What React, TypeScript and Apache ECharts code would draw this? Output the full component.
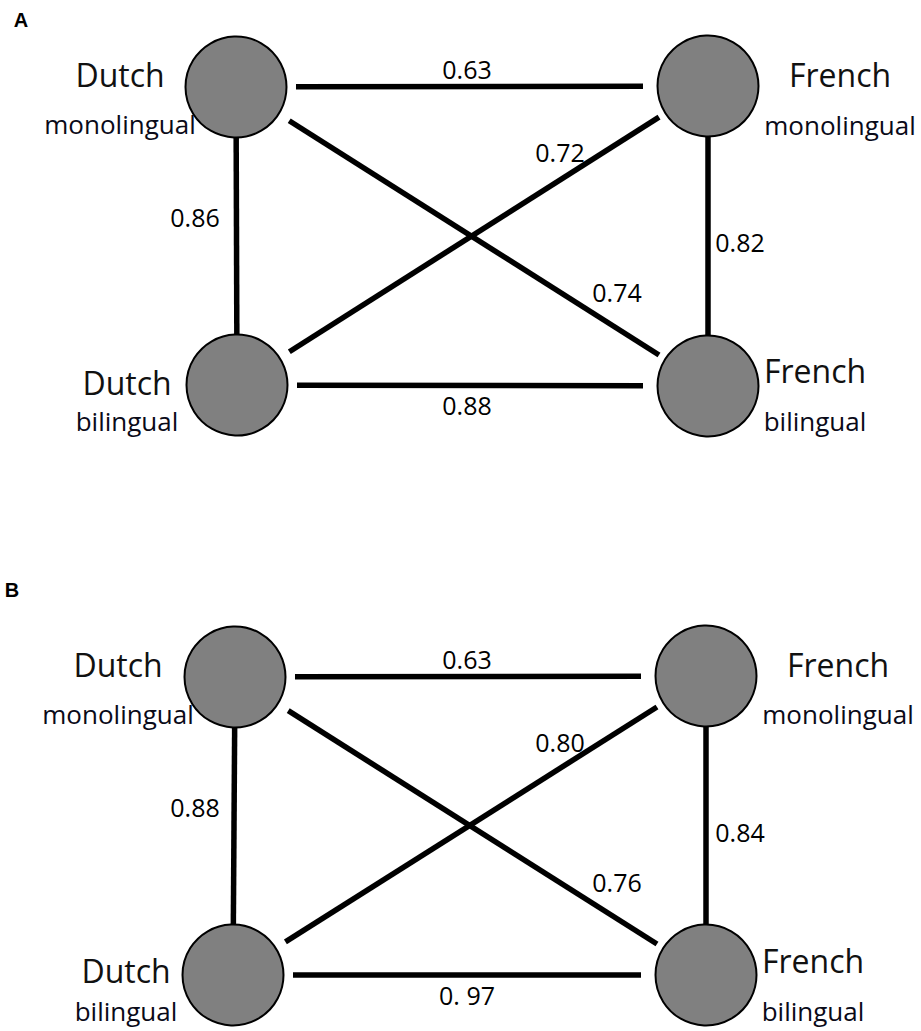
import React, { useEffect, useRef } from "react";
import * as echarts from "echarts";

// ---- data ----
const panelNames = ["A", "B"];
const nodeLanguages = ["Dutch", "French", "Dutch", "French"];
const nodeGroups = ["monolingual", "monolingual", "bilingual", "bilingual"];
// edges: Dutch mono–French mono, Dutch mono–Dutch bi, Dutch mono–French bi,
//        French mono–Dutch bi, French mono–French bi, Dutch bi–French bi
const edgeFrom = [0, 0, 0, 1, 1, 2];
const edgeTo = [1, 2, 3, 2, 3, 3];
const correlationsA = [0.63, 0.86, 0.74, 0.72, 0.82, 0.88];
const correlationsB = [0.63, 0.88, 0.76, 0.8, 0.84, 0.97];
const labelTextB = ["0.63", "0.88", "0.76", "0.80", "0.84", "0. 97"]; // as printed
const labelTextA = correlationsA.map((v) => v.toFixed(2));

// ---- layout (pixels) ----
const W = 921;
const H = 1031;
const R = 50;
const nodeCenters = [
  [[236, 87], [708, 86], [237, 385], [708, 386]],
  [[235, 677], [706, 676], [233, 975], [706, 975]],
];
const edgeGaps = [[10, 15], [-2, -2], [13, 8], [8, 12], [-2, -2], [10, 15]];
const edgeLabelPos = [
  [[467, 69], [195, 217], [617, 292], [560, 152], [740, 242], [467, 405]],
  [[467, 659], [195, 807], [617, 882], [560, 742], [740, 832], [467, 995]],
];
const nameLabelPos = [
  [[120, 74], [840, 74], [127, 382], [815, 370]],
  [[118, 664], [838, 664], [126, 970], [813, 960]],
];
const groupLabelPos = [
  [[120, 124], [840, 125], [127, 421], [815, 421]],
  [[118, 714], [838, 714], [126, 1011], [813, 1011]],
];
const panelLetterPos = [[21, 20], [12, 590]];

function edgeCoords(p: number, e: number) {
  const a = nodeCenters[p][edgeFrom[e]];
  const b = nodeCenters[p][edgeTo[e]];
  const dx = b[0] - a[0];
  const dy = b[1] - a[1];
  const len = Math.sqrt(dx * dx + dy * dy);
  const ux = dx / len;
  const uy = dy / len;
  const s = R + edgeGaps[e][0];
  const t = R + edgeGaps[e][1];
  return [
    [a[0] + ux * s, a[1] + uy * s],
    [b[0] - ux * t, b[1] - uy * t],
  ];
}

export default function App() {
  const ref = useRef<HTMLDivElement>(null);
  useEffect(() => {
    document.body.style.margin = "0";
    const chart = echarts.init(ref.current!, null, { renderer: "svg" });
    const font = "'Open Sans', sans-serif";
    const lineData: any[] = [];
    const edgeLabelData: any[] = [];
    const nodeData: any[] = [];
    const nameData: any[] = [];
    const groupData: any[] = [];
    const letterData: any[] = [];
    panelNames.forEach((pn, p) => {
      letterData.push({ value: panelLetterPos[p], name: pn });
      edgeFrom.forEach((_, e) => {
        lineData.push({ coords: edgeCoords(p, e) });
        const txt = p === 0 ? labelTextA[e] : labelTextB[e];
        const val = p === 0 ? correlationsA[e] : correlationsB[e];
        edgeLabelData.push({ value: [...edgeLabelPos[p][e], val], name: txt });
      });
      nodeLanguages.forEach((lang, n) => {
        nodeData.push({ value: nodeCenters[p][n], name: lang + " " + nodeGroups[n] });
        nameData.push({ value: nameLabelPos[p][n], name: lang });
        groupData.push({ value: groupLabelPos[p][n], name: nodeGroups[n] });
      });
    });
    const textSeries = (data: any[], size: number, weight: any, color: string, fam: string) => ({
      type: "scatter",
      data,
      symbol: "circle",
      symbolSize: 1,
      itemStyle: { color: "transparent", opacity: 1 },
      z: 5,
      silent: true,
      label: {
        show: true,
        position: "inside",
        formatter: (d: any) => d.name,
        fontSize: size,
        fontWeight: weight,
        fontFamily: fam,
        color,
        opacity: 1,
        align: "center",
        verticalAlign: "middle",
      },
    });
    chart.setOption({
      animation: false,
      backgroundColor: "#ffffff",
      grid: { left: 0, right: 0, top: 0, bottom: 0 },
      xAxis: { type: "value", min: 0, max: W, show: false },
      yAxis: { type: "value", min: 0, max: H, inverse: true, show: false },
      series: [
        {
          type: "lines",
          coordinateSystem: "cartesian2d",
          data: lineData,
          lineStyle: { color: "#000000", width: 5.5, opacity: 1, cap: "butt" },
          z: 1,
          silent: true,
        },
        {
          type: "scatter",
          data: nodeData,
          symbol: "circle",
          symbolSize: 2 * R + 1,
          itemStyle: { color: "#808080", borderColor: "#000000", borderWidth: 2, opacity: 1 },
          z: 3,
          silent: true,
        },
        textSeries(edgeLabelData, 25, "normal", "#000000", font),
        textSeries(nameData, 32, "normal", "#111111", font),
        textSeries(groupData, 26, 500, "#0a0a18", font),
        textSeries(letterData, 20, "bold", "#000000", "Arial, 'Liberation Sans', sans-serif"),
      ],
    });
    return () => chart.dispose();
  }, []);
  return <div ref={ref} style={{ width: W, height: H }} />;
}
